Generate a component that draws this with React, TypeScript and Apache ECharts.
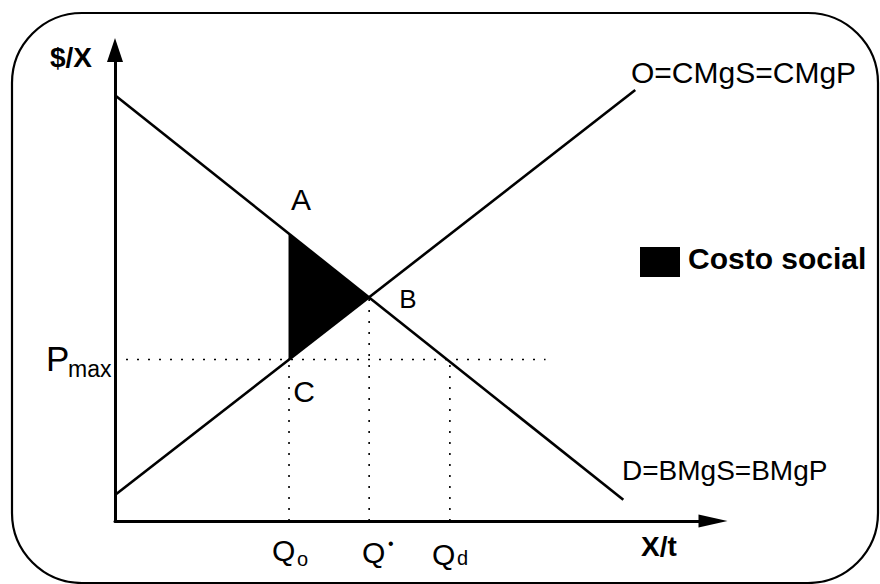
import React, { useEffect, useRef } from "react";
import * as echarts from "echarts";

// Data (axis units 0..100)
const demandLine: number[][] = [[0, 90.4], [85, 4.5]];
const supplyLine: number[][] = [[0, 5.5], [87, 91.5]];
const qO = 29.1;
const qStar = 42.5;
const qD = 56;
const pMax = 34.3;
const priceA = 61.0;
const priceB = 47.5;
const pMaxLineEnd = 72;
const socialCost: number[][] = [[qO, priceA], [qStar, priceB], [qO, pMax]];

const FONT = "'Liberation Sans', Arial, Helvetica, sans-serif";

function txt(text: string, x: number, y: number, size: number, bold = false, align = "left") {
  return {
    type: "text",
    x,
    y,
    silent: true,
    style: {
      text,
      font: `${bold ? "bold " : ""}${size}px ${FONT}`,
      fill: "#000",
      textAlign: align,
      align,
      textVerticalAlign: "middle",
      verticalAlign: "middle",
    },
  };
}

export default function App() {
  const ref = useRef<HTMLDivElement>(null);
  useEffect(() => {
    if (!ref.current) return;
    const chart = echarts.init(ref.current, null, { renderer: "svg" });
    const dotted = { color: "#000", width: 1.6, type: [2, 9] as number[] };
    const solid = { color: "#000", width: 2.6 };
    chart.setOption({
      animation: false,
      backgroundColor: "#fff",
      grid: { left: 115, top: 50, right: 167, bottom: 63 },
      xAxis: {
        type: "value",
        min: 0,
        max: 100,
        splitLine: { show: false },
        axisTick: { show: false },
        axisLabel: { show: false },
        axisLine: {
          show: true,
          onZero: false,
          symbol: ["none", "triangle"],
          symbolSize: [13, 29],
          lineStyle: { color: "#000", width: 3 },
        },
      },
      yAxis: {
        type: "value",
        min: 0,
        max: 100,
        splitLine: { show: false },
        axisTick: { show: false },
        axisLabel: { show: false },
        axisLine: {
          show: true,
          onZero: false,
          symbol: ["none", "triangle"],
          symbolSize: [16, 24],
          lineStyle: { color: "#000", width: 3 },
        },
      },
      series: [
        {
          type: "custom",
          silent: true,
          renderItem: (params: any, api: any) => {
            const pts = socialCost.map((p) => api.coord(p));
            return {
              type: "polygon",
              shape: { points: pts },
              style: { fill: "#000", stroke: "#000", lineWidth: 1 },
            };
          },
          data: [0],
          z: 1,
        },
        { type: "line", data: demandLine, symbol: "none", lineStyle: solid, silent: true, z: 3 },
        { type: "line", data: supplyLine, symbol: "none", lineStyle: solid, silent: true, z: 3 },
        { type: "line", data: [[0, pMax], [pMaxLineEnd, pMax]], symbol: "none", lineStyle: dotted, silent: true, z: 2 },
        { type: "line", data: [[qO, 0], [qO, pMax]], symbol: "none", lineStyle: dotted, silent: true, z: 2 },
        { type: "line", data: [[qStar, 0], [qStar, priceB]], symbol: "none", lineStyle: dotted, silent: true, z: 2 },
        { type: "line", data: [[qD, 0], [qD, pMax]], symbol: "none", lineStyle: dotted, silent: true, z: 2 },
      ],
      graphic: [
        {
          type: "rect",
          silent: true,
          shape: { x: 12, y: 13, width: 866, height: 570, r: 70 },
          style: { fill: "none", stroke: "#000", lineWidth: 2.2 },
          z: 0,
        },
        txt("$/X", 50, 57, 28, true),
        txt("O=CMgS=CMgP", 631, 72, 30),
        txt("D=BMgS=BMgP", 622, 470, 28),
        txt("P", 46, 358, 35),
        txt("max", 68, 369, 23),
        txt("A", 301, 199, 30, false, "center"),
        txt("B", 408, 299, 26, false, "center"),
        txt("C", 304, 391, 30, false, "center"),
        txt("Q", 272, 550, 30),
        txt("o", 297, 559, 20),
        txt("Q", 362, 552, 30),
        txt("•", 388, 543, 16),
        txt("Q", 432, 554, 30),
        txt("d", 457, 558, 20),
        txt("X/t", 641, 546, 28, true),
        {
          type: "rect",
          silent: true,
          shape: { x: 640, y: 247, width: 40, height: 30 },
          style: { fill: "#000" },
        },
        txt("Costo social", 688, 258, 30, true),
      ],
    });
    return () => chart.dispose();
  }, []);
  return (
    <div
      ref={ref}
      style={{ position: "fixed", left: 0, top: 0, width: 880, height: 584, background: "#fff" }}
    />
  );
}
